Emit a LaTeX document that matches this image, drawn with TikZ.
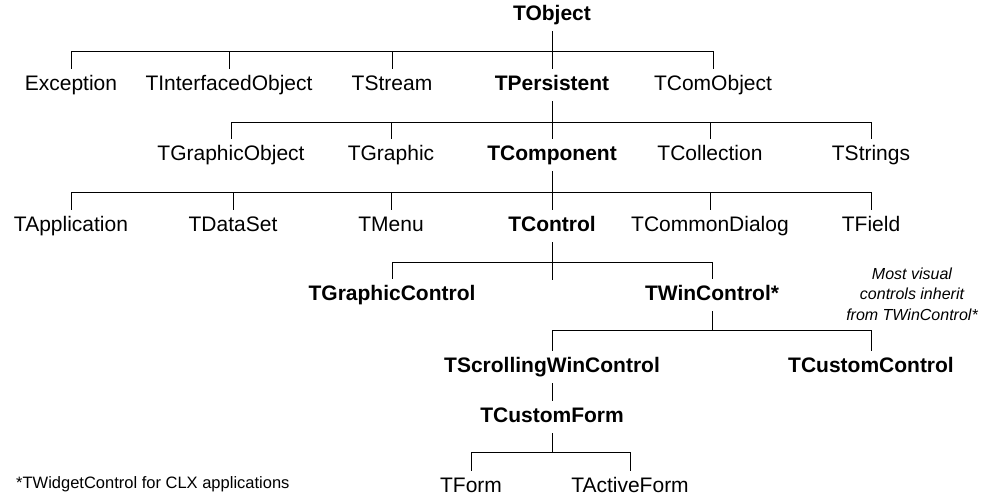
\documentclass[tikz,border=0pt]{standalone}
\usepackage{fontspec}
\setmainfont{Liberation Sans}

\begin{document}
\begin{tikzpicture}[x = 1pt, y = -1pt,
	cls/.style = {inner sep = 0pt, minimum height = 32pt, text height = 15pt, text depth = 4pt,
		font = \fontsize{21}{25}\selectfont},
	base/.style = {cls, font = \fontsize{21}{25}\selectfont\bfseries},
	wire/.style = {line width = 0.8pt}]

	% Fix the page size
	
	\useasboundingbox (0, 0) rectangle (1001, 497);
	
	% The root
	
	\node [base] (tobject) at (552, 15) {TObject};
	
	% First row
	
	\node [cls] (exception) at (71, 85) {Exception};
	\node [cls] (tinterfaced) at (229, 85) {TInterfacedObject};
	\node [cls] (tstream) at (392, 85) {TStream};
	\node [base] (tpersistent) at (552, 85) {TPersistent};
	\node [cls] (tcomobject) at (713, 85) {TComObject};
	
	% Second row
	
	\node [cls] (tgraphicobject) at (231, 155) {TGraphicObject};
	\node [cls] (tgraphic) at (391, 155) {TGraphic};
	\node [base] (tcomponent) at (552, 155) {TComponent};
	\node [cls] (tcollection) at (710, 155) {TCollection};
	\node [cls] (tstrings) at (871, 155) {TStrings};
	
	% Third row
	
	\node [cls] (tapplication) at (71, 226) {TApplication};
	\node [cls] (tdataset) at (233, 226) {TDataSet};
	\node [cls] (tmenu) at (391, 226) {TMenu};
	\node [base] (tcontrol) at (552, 226) {TControl};
	\node [cls] (tcommondialog) at (710, 226) {TCommonDialog};
	\node [cls] (tfield) at (871, 226) {TField};
	
	% Controls
	
	\node [base] (tgraphiccontrol) at (392, 295) {TGraphicControl};
	\node [base] (twincontrol) at (712, 295) {TWinControl*};
	
	\node [base] (tscrolling) at (552, 367) {TScrollingWinControl};
	\node [base] (tcustomcontrol) at (871, 367) {TCustomControl};
	
	\node [base] (tcustomform) at (552, 417) {TCustomForm};
	
	\node [cls] (tform) at (471, 487) {TForm};
	\node [cls] (tactiveform) at (630, 487) {TActiveForm};
	
	% Side note and footnote
	
	\node [align = center, font = \fontsize{16}{20.5}\selectfont\itshape] (visual) at (912, 294)
		{Most visual\\controls inherit\\from TWinControl*};
	
	\node [anchor = west, inner sep = 0pt, font = \fontsize{16.5}{20}\selectfont] (footnote) at (16, 484)
		{*TWidgetControl for CLX applications};
	
	% Buses
	
	\coordinate (bus1) at (552, 51);
	\coordinate (bus2) at (552, 122);
	\coordinate (bus3) at (552, 192);
	\coordinate (bus4) at (552, 262);
	\coordinate (stub) at (552, 280);
	\coordinate (bus5) at (712, 330);
	\coordinate (bus6) at (552, 452);
	
	\begin{scope}[wire]
	
		\draw (tobject.south) -- (tpersistent.north);
		\foreach \n in {exception, tinterfaced, tstream, tcomobject}
			\draw (\n.north) |- (bus1);
		
		\draw (tpersistent.south) -- (tcomponent.north);
		\foreach \n in {tgraphicobject, tgraphic, tcollection, tstrings}
			\draw (\n.north) |- (bus2);
		
		\draw (tcomponent.south) -- (tcontrol.north);
		\foreach \n in {tapplication, tdataset, tmenu, tcommondialog, tfield}
			\draw (\n.north) |- (bus3);
		
		\draw (tcontrol.south) -- (stub);
		\foreach \n in {tgraphiccontrol, twincontrol}
			\draw (\n.north) |- (bus4);
		
		\draw (twincontrol.south) -- (bus5);
		\foreach \n in {tscrolling, tcustomcontrol}
			\draw (\n.north) |- (bus5);
		
		\draw (tscrolling.south) -- (tcustomform.north);
		
		\draw (tcustomform.south) -- (bus6);
		\foreach \n in {tform, tactiveform}
			\draw (\n.north) |- (bus6);
		
	\end{scope}
	
\end{tikzpicture}
\end{document}
